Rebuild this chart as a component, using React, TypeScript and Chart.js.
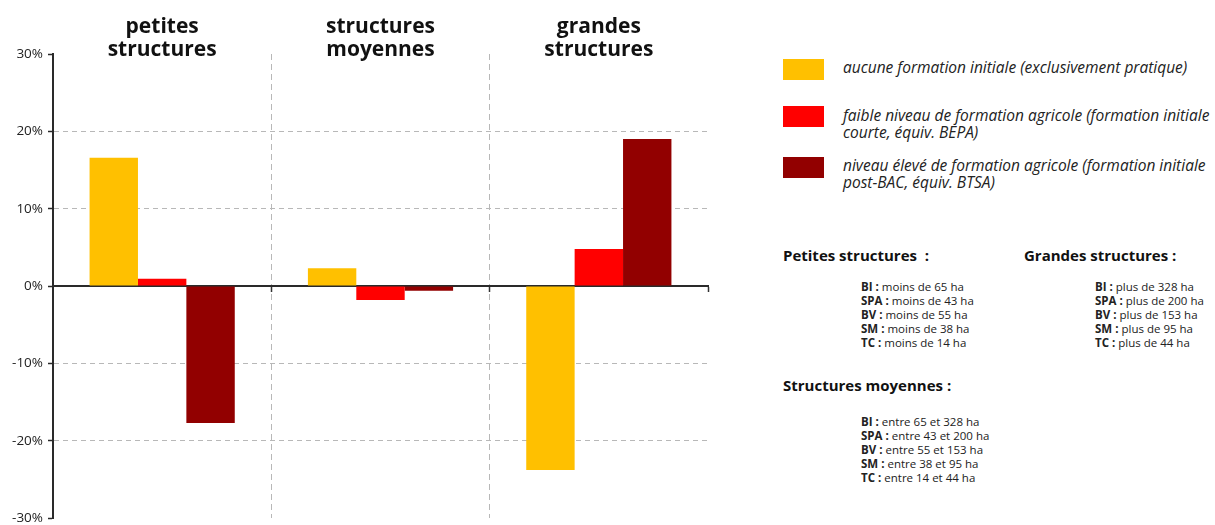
import React, { useEffect, useRef } from "react";
import { Chart, registerables } from "chart.js";

Chart.register(...registerables);

const categories: string[][] = [
  ["petites", "structures"],
  ["structures", "moyennes"],
  ["grandes", "structures"],
];
const seriesNames = [
  "aucune formation initiale (exclusivement pratique)",
  "faible niveau de formation agricole (formation initiale courte, équiv. BEPA)",
  "niveau élevé de formation agricole (formation initiale post-BAC, équiv. BTSA)",
];
const legendLines: string[][] = [
  ["aucune formation initiale (exclusivement pratique)"],
  ["faible niveau de formation agricole (formation initiale", "courte, équiv. BEPA)"],
  ["niveau élevé de formation agricole (formation initiale", "post-BAC, équiv. BTSA)"],
];
const aucune = [16.6, 2.3, -23.8];
const faible = [0.95, -1.8, 4.8];
const eleve = [-17.7, -0.6, 19.0];
const colors = ["#FFC000", "#FF0000", "#920000"];
const yTicks = { min: -30, max: 30, step: 10 };

const petites: [string, string][] = [
  ["BI :", "moins de 65 ha"],
  ["SPA :", "moins de 43 ha"],
  ["BV :", "moins de 55 ha"],
  ["SM :", "moins de 38 ha"],
  ["TC :", "moins de 14 ha"],
];
const grandes: [string, string][] = [
  ["BI :", "plus de 328 ha"],
  ["SPA :", "plus de 200 ha"],
  ["BV :", "plus de 153 ha"],
  ["SM :", "plus de 95 ha"],
  ["TC :", "plus de 44 ha"],
];
const moyennes: [string, string][] = [
  ["BI :", "entre 65 et 328 ha"],
  ["SPA :", "entre 43 et 200 ha"],
  ["BV :", "entre 55 et 153 ha"],
  ["SM :", "entre 38 et 95 ha"],
  ["TC :", "entre 14 et 44 ha"],
];

const FONT = "'Open Sans', 'DejaVu Sans', sans-serif";

const titlePlugin = {
  id: "groupTitles",
  afterDraw(chart: any) {
    const ctx = chart.ctx;
    const xs = chart.scales.x;
    ctx.save();
    ctx.font = `bold 21px ${FONT}`;
    ctx.fillStyle = "#111";
    ctx.textAlign = "center";
    ctx.textBaseline = "alphabetic";
    categories.forEach((lines, i) => {
      const x = xs.getPixelForValue(i);
      lines.forEach((t, j) => {
        ctx.fillText(t, x, 32.5 + j * 23.5);
      });
    });
    ctx.restore();
  },
};

function ChartCanvas() {
  const ref = useRef<HTMLCanvasElement | null>(null);
  useEffect(() => {
    if (!ref.current) return;
    const chart = new Chart(ref.current, {
      type: "bar",
      data: {
        labels: categories.map((c) => c.join(" ")),
        datasets: [aucune, faible, eleve].map((d, i) => ({
          label: seriesNames[i],
          data: d,
          backgroundColor: colors[i],
          borderWidth: 0,
          categoryPercentage: 0.665,
          barPercentage: 1,
        })),
      },
      options: {
        responsive: false,
        animation: false,
        layout: { padding: { left: 0, right: 12, top: 54, bottom: 7 } },
        plugins: {
          legend: { display: false },
          tooltip: { enabled: false },
        },
        scales: {
          x: {
            position: { y: 0 } as any,
            z: 1,
            afterFit: (s: any) => {
              s.height = 0;
              s.paddingLeft = 0;
              s.paddingRight = 0;
            },
            ticks: { display: false },
            grid: {
              display: true,
              offset: true,
              drawOnChartArea: true,
              drawTicks: true,
              tickLength: 5,
              tickColor: (c: any) => (c.index === 0 ? "rgba(0,0,0,0)" : "#333"),
              tickWidth: 1.5,
              color: (c: any) => (c.index === 1 || c.index === 2 ? "#b8b8b8" : "rgba(0,0,0,0)"),
              lineWidth: 1,
            },
            border: { display: true, color: "#2a2a2a", width: 2, dash: [6, 4] },
          },
          y: {
            min: yTicks.min,
            max: yTicks.max,
            afterFit: (s: any) => {
              s.width = 53;
              s.paddingTop = 0;
              s.paddingBottom = 0;
            },
            ticks: {
              stepSize: yTicks.step,
              padding: 5,
              color: "#222",
              font: { family: FONT, size: 13.5 },
              callback: (v: any) => `${v}%`,
            },
            grid: {
              display: true,
              drawTicks: true,
              tickLength: 5,
              tickColor: "#2a2a2a",
              tickWidth: 1.5,
              color: (c: any) => {
                const v = c.tick ? c.tick.value : 0;
                return v === 0 || Math.abs(v) === 30 ? "rgba(0,0,0,0)" : "#b8b8b8";
              },
              lineWidth: 1,
            },
            border: { display: true, color: "#2a2a2a", width: 2, dash: [5, 4] },
          },
        },
      },
      plugins: [titlePlugin],
    });
    return () => chart.destroy();
  }, []);
  return (
    <canvas
      ref={ref}
      width={720}
      height={525}
      style={{ position: "absolute", left: 0, top: 0, width: 720, height: 525 }}
    />
  );
}

function Items({ rows, left, top }: { rows: [string, string][]; left: number; top: number }) {
  return (
    <div style={{ position: "absolute", left, top, fontSize: 11.5, lineHeight: "14.2px", color: "#222", whiteSpace: "nowrap" }}>
      {rows.map(([k, v], i) => (
        <div key={i}>
          <b>{k}</b> {v}
        </div>
      ))}
    </div>
  );
}

const headStyle: React.CSSProperties = {
  position: "absolute",
  fontSize: 15,
  lineHeight: "18px",
  fontWeight: 700,
  color: "#111",
  whiteSpace: "pre",
};

export default function App() {
  const swatchTops = [59, 106, 157];
  const textTops = [59, 107, 157];
  return (
    <div
      style={{
        position: "absolute",
        left: 0,
        top: 0,
        width: 1215,
        height: 525,
        background: "#fff",
        fontFamily: FONT,
        overflow: "hidden",
      }}
    >
      <ChartCanvas />
      {legendLines.map((lines, i) => (
        <React.Fragment key={i}>
          <div
            style={{
              position: "absolute",
              left: 783,
              top: swatchTops[i],
              width: 41,
              height: 21,
              background: colors[i],
            }}
          />
          <div
            style={{
              position: "absolute",
              left: 843,
              top: textTops[i],
              fontSize: 15.5,
              lineHeight: "17px",
              fontStyle: "italic",
              color: "#222",
              whiteSpace: "nowrap",
            }}
          >
            {lines.map((l, j) => (
              <div key={j}>{l}</div>
            ))}
          </div>
        </React.Fragment>
      ))}
      <div style={{ ...headStyle, left: 783, top: 246 }}>{"Petites structures  :"}</div>
      <div style={{ ...headStyle, left: 1024, top: 246 }}>{"Grandes structures :"}</div>
      <div style={{ ...headStyle, left: 783, top: 376 }}>{"Structures moyennes :"}</div>
      <Items rows={petites} left={861} top={279.6} />
      <Items rows={grandes} left={1095} top={279.6} />
      <Items rows={moyennes} left={861} top={414.6} />
    </div>
  );
}
